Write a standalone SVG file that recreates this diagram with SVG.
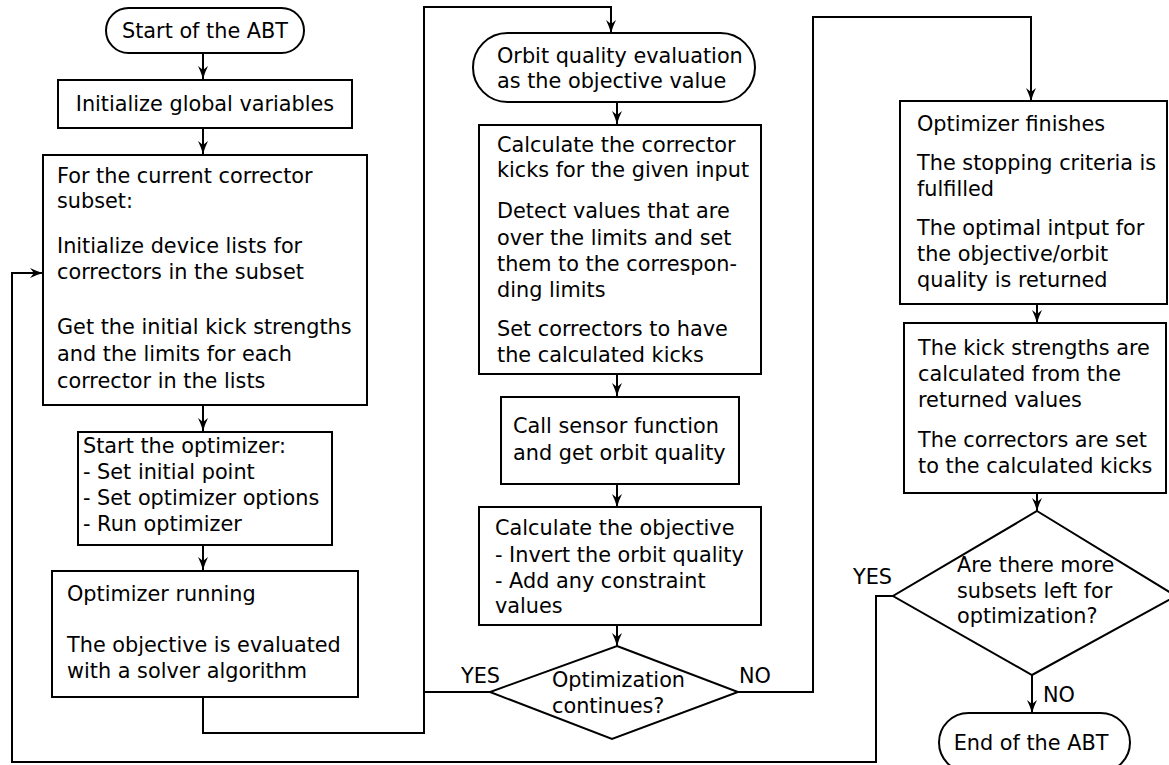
<svg xmlns="http://www.w3.org/2000/svg" width="1169" height="765" viewBox="0 0 1169 765">
<defs>
<style>
.box{fill:#fff;stroke:#000;stroke-width:2}
.ln{fill:none;stroke:#000;stroke-width:2}
text{font-family:"DejaVu Sans","Liberation Sans",sans-serif;font-size:20.8px;fill:#000}
.c{text-anchor:middle}
</style>
<marker id="ah" markerUnits="userSpaceOnUse" markerWidth="16" markerHeight="12" viewBox="-14 -6 16 12" refX="0" refY="0" orient="auto">
<path d="M0,0 Q-7,-2 -13,-5 L-9,0 L-13,5 Q-7,2 0,0 Z" fill="#000"/>
</marker>
</defs>
<rect width="1169" height="765" fill="#fff"/>
<g id="connectors">
<path class="ln" d="M203,53 V79" marker-end="url(#ah)"/>
<path class="ln" d="M203,128 V154" marker-end="url(#ah)"/>
<path class="ln" d="M203,405 V431" marker-end="url(#ah)"/>
<path class="ln" d="M203,545 V570" marker-end="url(#ah)"/>
<path class="ln" d="M203,697 V733 H424 V7 H611 V33" marker-end="url(#ah)"/>
<path class="ln" d="M490,692 H424"/>
<path class="ln" d="M617,102 V124" marker-end="url(#ah)"/>
<path class="ln" d="M617,374 V396" marker-end="url(#ah)"/>
<path class="ln" d="M617,484 V507" marker-end="url(#ah)"/>
<path class="ln" d="M617,625 V646" marker-end="url(#ah)"/>
<path class="ln" d="M738,692 H813 V17 H1031 V101" marker-end="url(#ah)"/>
<path class="ln" d="M1037,304 V323" marker-end="url(#ah)"/>
<path class="ln" d="M1037,493 V511" marker-end="url(#ah)"/>
<path class="ln" d="M893,596 H876 V762 H12 V273 H43" marker-end="url(#ah)"/>
<path class="ln" d="M1032,675 V713" marker-end="url(#ah)"/>
</g>
<g id="start">
<rect class="box" x="106" y="8" width="198" height="45" rx="22.5"/>
<text x="205" y="38" class="c">Start of the ABT</text>
</g>
<g id="init">
<rect class="box" x="58" y="80" width="294" height="48"/>
<text x="205" y="111" class="c">Initialize global variables</text>
</g>
<g id="subset">
<rect class="box" x="43" y="155" width="324" height="250"/>
<text x="57" y="183">For the current corrector</text>
<text x="57" y="208">subset:</text>
<text x="57" y="253">Initialize device lists for</text>
<text x="57" y="279">correctors in the subset</text>
<text x="57" y="334">Get the initial kick strengths</text>
<text x="57" y="361">and the limits for each</text>
<text x="57" y="388">corrector in the lists</text>
</g>
<g id="startopt">
<rect class="box" x="78" y="432" width="254" height="113"/>
<text x="83" y="453">Start the optimizer:</text>
<text x="83" y="479">- Set initial point</text>
<text x="83" y="505">- Set optimizer options</text>
<text x="83" y="531">- Run optimizer</text>
</g>
<g id="running">
<rect class="box" x="52" y="571" width="306" height="126"/>
<text x="67" y="601">Optimizer running</text>
<text x="67" y="652">The objective is evaluated</text>
<text x="67" y="678">with a solver algorithm</text>
</g>
<g id="orbiteval">
<rect class="box" x="473" y="33" width="282" height="69" rx="34.5"/>
<text x="497" y="63">Orbit quality evaluation</text>
<text x="497" y="88">as the objective value</text>
</g>
<g id="calc">
<rect class="box" x="479" y="125" width="282" height="249"/>
<text x="497" y="152">Calculate the corrector</text>
<text x="497" y="177">kicks for the given input</text>
<text x="497" y="218">Detect values that are</text>
<text x="497" y="245">over the limits and set</text>
<text x="497" y="271">them to the correspon-</text>
<text x="497" y="297">ding limits</text>
<text x="497" y="336">Set correctors to have</text>
<text x="497" y="362">the calculated kicks</text>
</g>
<g id="sensor">
<rect class="box" x="501" y="397" width="238" height="87"/>
<text x="513" y="433">Call sensor function</text>
<text x="513" y="460">and get orbit quality</text>
</g>
<g id="objective">
<rect class="box" x="479" y="507" width="282" height="118"/>
<text x="495" y="535">Calculate the objective</text>
<text x="495" y="562">- Invert the orbit quality</text>
<text x="495" y="588">- Add any constraint</text>
<text x="495" y="613">values</text>
</g>
<g id="decision1">
<polygon class="box" points="617,646 738,692 612,739 490,692"/>
<text x="552" y="687">Optimization</text>
<text x="552" y="713">continues?</text>
<text x="461" y="683">YES</text>
<text x="739" y="683">NO</text>
</g>
<g id="finishes">
<rect class="box" x="900" y="101" width="267" height="203"/>
<text x="917" y="131">Optimizer finishes</text>
<text x="917" y="170">The stopping criteria is</text>
<text x="917" y="196">fulfilled</text>
<text x="917" y="235">The optimal intput for</text>
<text x="917" y="261">the objective/orbit</text>
<text x="917" y="287">quality is returned</text>
</g>
<g id="kicks">
<rect class="box" x="904" y="323" width="262" height="170"/>
<text x="918" y="355">The kick strengths are</text>
<text x="918" y="381">calculated from the</text>
<text x="918" y="407">returned values</text>
<text x="918" y="447">The correctors are set</text>
<text x="918" y="473">to the calculated kicks</text>
</g>
<g id="decision2">
<polygon class="box" points="1037,511 1176,596 1032,675 893,596"/>
<text x="957" y="572">Are there more</text>
<text x="957" y="598">subsets left for</text>
<text x="957" y="623">optimization?</text>
<text x="853" y="584">YES</text>
<text x="1043" y="702">NO</text>
</g>
<g id="end">
<rect class="box" x="939" y="713" width="191" height="59" rx="29.5"/>
<text x="1031" y="750" class="c">End of the ABT</text>
</g>
</svg>
